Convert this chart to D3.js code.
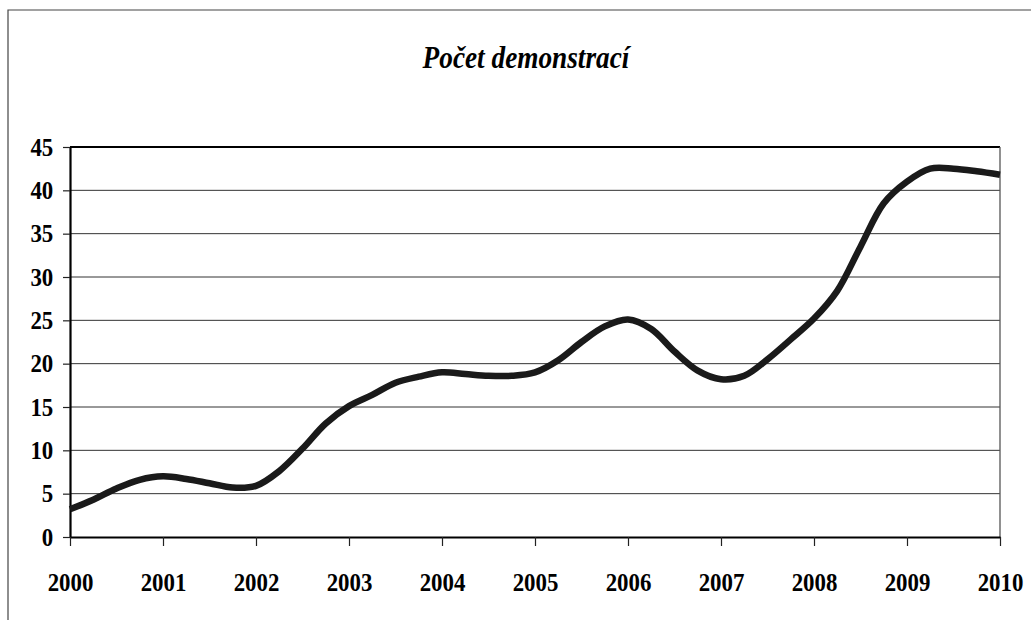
<!DOCTYPE html>
<html>
<head>
<meta charset="utf-8">
<script src="https://cdn.jsdelivr.net/npm/d3@7"></script>
<style>
  body { margin: 0; background: #fff; }
  svg { display: block; }
</style>
</head>
<body>
<svg id="chart" width="1031" height="620"></svg>
<script>
// values (quarterly points)
var years = [2000, 2000.25, 2000.5, 2000.75, 2001, 2001.25, 2001.5, 2001.75,
             2002, 2002.25, 2002.5, 2002.75, 2003, 2003.25, 2003.5, 2003.75,
             2004, 2004.25, 2004.5, 2004.75, 2005, 2005.25, 2005.5, 2005.75,
             2006, 2006.25, 2006.5, 2006.75, 2007, 2007.25, 2007.5, 2007.75,
             2008, 2008.25, 2008.5, 2008.75, 2009, 2009.25, 2009.5, 2009.75, 2010];
var counts = [3.2, 4.3, 5.6, 6.6, 7.0, 6.7, 6.2, 5.7,
              5.9, 7.6, 10.2, 13.1, 15.1, 16.4, 17.8, 18.5,
              19.0, 18.8, 18.6, 18.6, 19.0, 20.4, 22.5, 24.3,
              25.1, 24.0, 21.4, 19.2, 18.2, 18.6, 20.5, 22.8,
              25.2, 28.4, 33.5, 38.5, 41.0, 42.5, 42.5, 42.2, 41.8];
var xTicks = [2000, 2001, 2002, 2003, 2004, 2005, 2006, 2007, 2008, 2009, 2010];
var yTicks = [0, 5, 10, 15, 20, 25, 30, 35, 40, 45];
var title = "Počet demonstrací";

var svg = d3.select("#chart");
var margins = { top: 147, bottom: 83, left: 70, right: 31 };
var width = 1031 - margins.left - margins.right;
var height = 620 - margins.top - margins.bottom;

var font = "'Liberation Serif', 'Times New Roman', serif";
var squeeze = "scale(0.88,1)";   // the original type is set narrow

// outer frame
svg.append("path")
    .attr("d", "M8,620 V10 H1031")
    .attr("fill", "none")
    .attr("stroke", "#444")
    .attr("stroke-width", 1.2);

svg.append("g")
    .attr("transform", "translate(526,68) " + squeeze)
  .append("text")
    .attr("text-anchor", "middle")
    .style("font-family", font)
    .style("font-weight", "bold")
    .style("font-style", "italic")
    .style("font-size", "31px")
    .text(title);

var xScale = d3.scaleLinear().domain([2000, 2010]).range([0, width]);
var yScale = d3.scaleLinear().domain([0, 45]).range([height, 0]);

var g = svg.append("g").attr("transform", "translate(" + margins.left + "," + margins.top + ")");

// grid
g.selectAll(".grid").data(yTicks.slice(1, -1)).enter().append("line")
    .attr("class", "grid")
    .attr("x1", 0).attr("x2", width)
    .attr("y1", function(d) { return yScale(d); })
    .attr("y2", function(d) { return yScale(d); })
    .attr("stroke", "#333").attr("stroke-width", 1);

// plot border
g.append("line").attr("x1", 0).attr("x2", width).attr("y1", 0).attr("y2", 0)
    .attr("stroke", "#000").attr("stroke-width", 2.2);
g.append("line").attr("x1", width).attr("x2", width).attr("y1", 0).attr("y2", height)
    .attr("stroke", "#555").attr("stroke-width", 1.3);

var yAxis = g.append("g")
    .call(d3.axisLeft(yScale).tickValues(yTicks).tickSize(7).tickPadding(12).tickSizeOuter(0));
var xAxis = g.append("g")
    .attr("transform", "translate(0," + height + ")")
    .call(d3.axisBottom(xScale).tickValues(xTicks).tickFormat(d3.format("d")).tickSize(9).tickPadding(27).tickSizeOuter(0));

[xAxis, yAxis].forEach(function(ax) {
    ax.select(".domain").attr("stroke", "#000").attr("stroke-width", 2.2);
    ax.selectAll(".tick line").attr("stroke", "#222").attr("stroke-width", 1.2);
    ax.selectAll("text")
        .attr("fill", "#000")
        .attr("transform", squeeze)
        .style("font-family", font)
        .style("font-weight", "bold")
        .style("font-size", "26px");
});

var data = years.map(function(y, i) { return { year: y, value: counts[i] }; });

g.append("path")
    .datum(data)
    .attr("fill", "none")
    .attr("stroke", "#1a1a1a")
    .attr("stroke-width", 6.5)
    .attr("stroke-linejoin", "round")
    .attr("d", d3.line()
        .curve(d3.curveCatmullRom.alpha(0.5))
        .x(function(d) { return xScale(d.year); })
        .y(function(d) { return yScale(d.value); }));
</script>
</body>
</html>
